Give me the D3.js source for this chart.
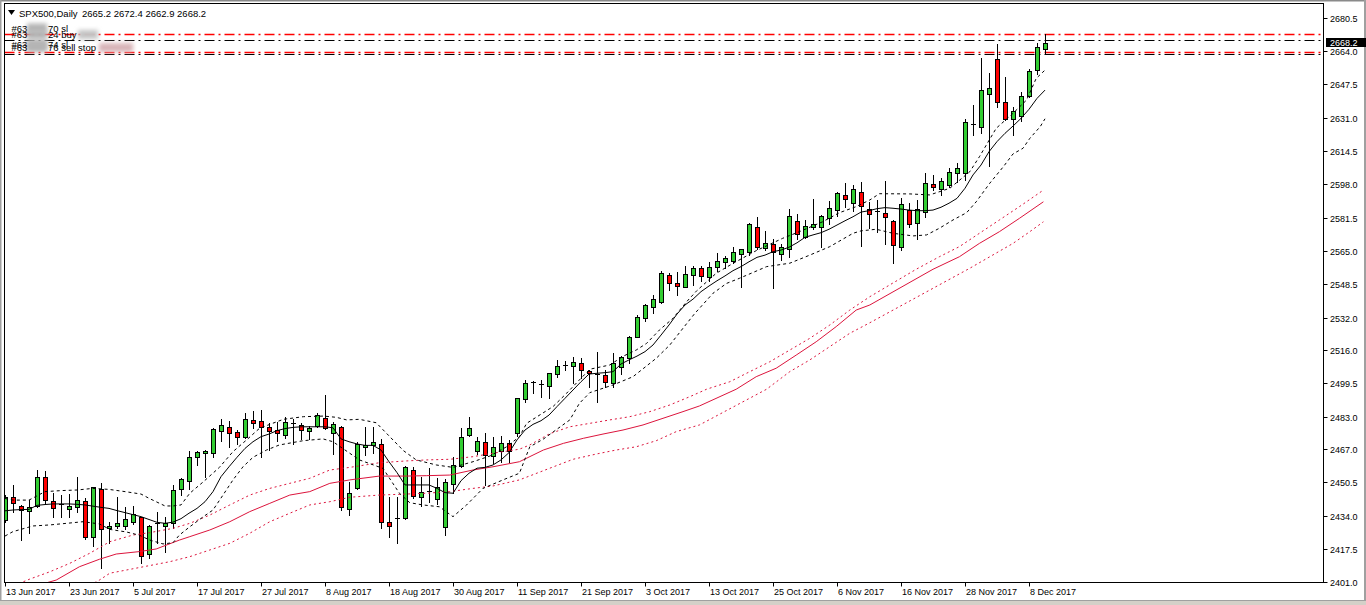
<!DOCTYPE html>
<html><head><meta charset="utf-8">
<script src="https://cdn.jsdelivr.net/npm/d3@7"></script>
<style>
html,body{margin:0;padding:0;background:#fff;overflow:hidden}
svg{display:block}
text{font-family:"Liberation Sans",Arial,sans-serif}
</style>
</head><body>
<svg id="c" width="1366" height="605"></svg>
<script>
// ---------- DATA ----------
const symbolTitle = "SPX500,Daily";
const open = [2431.8,2443.4,2438.9,2436.5,2438.8,2453.0,2441.3,2439.6,2437.1,2438.1,2441.3,2423.3,2447.0,2427.7,2429.0,2429.0,2430.7,2433.2,2414.8,2430.5,2428.9,2430.2,2447.0,2451.3,2462.9,2464.9,2464.9,2476.1,2478.0,2475.2,2472.8,2481.4,2480.7,2477.7,2476.4,2473.9,2480.0,2478.9,2475.9,2478.6,2482.2,2474.8,2478.0,2437.1,2447.5,2467.8,2468.8,2469.3,2430.7,2432.7,2432.7,2456.6,2443.4,2446.4,2442.1,2428.5,2449.7,2458.6,2473.9,2466.2,2470.3,2463.5,2466.2,2469.8,2474.8,2491.6,2500.3,2499.2,2498.2,2504.0,2508.6,2508.1,2509.4,2505.8,2504.1,2503.5,2499.8,2507.4,2511.9,2522.6,2532.0,2537.5,2539.9,2553.1,2549.0,2547.4,2553.0,2556.4,2552.0,2557.3,2559.7,2560.2,2563.4,2564.4,2576.7,2566.3,2568.3,2563.5,2566.0,2580.0,2571.8,2577.1,2576.7,2581.2,2585.3,2592.6,2588.6,2594.4,2585.7,2585.0,2583.7,2579.7,2566.8,2585.3,2578.7,2584.2,2598.0,2595.6,2597.5,2603.5,2603.5,2627.9,2626.6,2642.8,2659.9,2638.7,2630.4,2632.0,2641.8,2654.7,2665.2];
const high = [2444.2,2449.2,2439.2,2441.7,2456.6,2456.3,2445.0,2444.2,2444.6,2453.0,2442.6,2448.3,2450.3,2431.0,2443.1,2438.1,2438.8,2433.5,2429.2,2436.0,2433.2,2449.2,2452.5,2466.2,2466.2,2466.5,2477.2,2481.7,2480.9,2476.4,2484.7,2485.8,2486.3,2479.7,2480.5,2483.0,2481.7,2479.7,2478.4,2484.7,2493.7,2480.5,2478.4,2450.8,2470.6,2477.7,2477.7,2471.8,2443.4,2443.4,2458.6,2458.3,2453.3,2457.4,2452.5,2452.0,2462.9,2477.2,2483.0,2473.1,2475.1,2472.8,2473.4,2471.5,2492.4,2501.2,2500.7,2501.2,2504.8,2511.1,2510.7,2512.4,2511.9,2506.1,2515.2,2506.1,2514.7,2513.0,2522.9,2533.2,2538.8,2543.3,2555.3,2554.3,2554.8,2557.6,2557.6,2557.6,2559.7,2563.9,2562.5,2566.8,2566.2,2579.1,2581.7,2574.9,2570.8,2568.3,2585.7,2583.4,2580.4,2590.6,2582.8,2590.0,2594.4,2598.5,2597.7,2599.0,2589.5,2590.3,2599.7,2580.4,2591.1,2588.6,2590.3,2603.5,2602.7,2601.0,2606.3,2608.4,2630.4,2637.3,2660.8,2653.0,2667.5,2651.0,2636.2,2643.9,2655.0,2668.2,2672.4];
const low = [2431.0,2436.0,2421.9,2425.6,2438.4,2440.1,2433.2,2433.5,2433.5,2436.0,2422.6,2419.1,2408.2,2420.3,2427.7,2427.2,2429.9,2410.7,2412.9,2420.6,2416.2,2427.7,2444.2,2447.4,2459.1,2453.3,2463.2,2471.1,2468.2,2469.5,2472.3,2477.6,2462.9,2466.5,2471.1,2472.3,2469.5,2471.8,2471.8,2478.0,2476.7,2464.5,2436.8,2434.3,2447.2,2464.0,2465.2,2427.7,2423.6,2420.3,2432.2,2442.6,2438.8,2440.9,2439.8,2424.4,2445.0,2457.9,2473.6,2464.5,2449.2,2460.2,2460.7,2460.7,2473.4,2490.4,2494.6,2492.6,2492.1,2502.8,2506.1,2499.5,2502.0,2497.5,2490.4,2497.5,2497.9,2504.1,2509.7,2522.3,2530.5,2534.5,2539.5,2545.7,2543.3,2547.0,2548.2,2550.3,2550.3,2555.3,2556.4,2558.9,2547.0,2563.0,2565.9,2565.5,2546.5,2560.6,2562.2,2570.8,2571.3,2575.8,2567.2,2578.4,2582.4,2586.6,2585.0,2567.5,2576.2,2574.6,2568.5,2559.3,2565.5,2576.8,2570.8,2582.0,2595.2,2592.8,2596.9,2599.4,2600.2,2622.5,2623.6,2607.3,2636.2,2629.9,2622.5,2629.6,2641.4,2652.7,2662.9];
const close = [2443.4,2440.1,2436.8,2438.1,2453.0,2441.7,2437.6,2439.6,2438.8,2441.7,2423.6,2448.0,2427.2,2428.9,2430.2,2432.3,2434.7,2414.0,2428.9,2430.5,2430.5,2446.7,2452.2,2462.9,2465.5,2466.0,2476.7,2478.9,2475.1,2473.1,2481.7,2480.0,2478.0,2476.1,2474.8,2480.2,2480.0,2476.4,2477.6,2483.8,2477.2,2479.2,2438.4,2445.0,2469.3,2469.0,2470.3,2431.0,2429.0,2432.7,2457.9,2443.9,2445.9,2446.4,2448.0,2450.5,2458.9,2473.1,2477.2,2471.1,2464.0,2467.8,2469.8,2466.2,2492.1,2499.8,2500.3,2499.2,2504.5,2508.1,2508.6,2509.9,2506.1,2504.8,2504.1,2500.3,2509.4,2512.4,2522.3,2532.5,2538.1,2541.1,2554.0,2549.0,2547.9,2553.6,2556.5,2552.8,2556.9,2560.2,2561.4,2564.7,2565.9,2578.4,2567.2,2569.2,2564.7,2566.8,2582.5,2573.4,2577.4,2578.4,2582.5,2586.2,2593.6,2591.0,2595.6,2587.5,2583.4,2585.0,2581.7,2567.8,2588.1,2578.4,2585.7,2598.5,2596.6,2599.5,2604.0,2606.0,2628.7,2627.9,2644.7,2645.6,2638.7,2630.2,2634.2,2641.9,2654.0,2666.2,2668.2];

// black moving average (one value per bar)
const maBlack = [2436.4,2436.8,2437.0,2437.1,2439.1,2439.5,2439.8,2439.8,2439.8,2439.6,2439.3,2438.7,2438.1,2437.6,2436.5,2435.5,2434.5,2433.5,2432.1,2430.7,2430.2,2430.8,2432.5,2435.2,2437.6,2440.9,2445.9,2453.3,2458.2,2462.9,2467.3,2470.6,2473.1,2474.4,2476.1,2477.1,2477.7,2478.0,2478.0,2478.0,2478.0,2477.5,2472.0,2470.6,2469.5,2468.8,2468.8,2466.5,2460.7,2455.3,2449.2,2449.2,2449.2,2449.2,2447.5,2445.4,2445.1,2451.3,2455.0,2457.5,2457.9,2459.1,2461.6,2465.2,2471.5,2476.4,2479.2,2481.0,2483.8,2488.0,2492.1,2496.2,2500.3,2504.1,2504.5,2504.8,2505.3,2509.1,2511.1,2513.0,2515.2,2518.5,2523.4,2528.4,2533.8,2538.3,2541.2,2544.9,2547.7,2550.3,2552.7,2555.3,2557.3,2559.7,2561.9,2563.0,2564.7,2565.5,2566.9,2569.1,2571.8,2573.0,2574.1,2575.8,2577.9,2580.0,2582.0,2584.3,2585.0,2586.0,2586.5,2586.2,2585.8,2585.3,2585.0,2585.0,2585.3,2586.7,2588.7,2591.1,2596.1,2602.7,2607.6,2614.2,2619.2,2623.3,2626.9,2630.7,2635.2,2640.6,2644.7];

// black dashed bands, [bar, value]
const bandUpper = [[0,2442.5],[1,2441.7],[3,2441.7],[5,2445.9],[7,2446.4],[9,2446.7],[11,2447.5],[13,2447.0],[15,2445.9],[17,2444.7],[18,2442.6],[20,2438.8],[21,2438.8],[22,2439.3],[23.1,2445.1],[24.8,2450.8],[26.8,2457.9],[28.5,2465.7],[30.2,2471.5],[31.8,2477.2],[33.1,2479.2],[34.8,2481.7],[37.3,2483.0],[39.8,2483.3],[41.4,2482.7],[42.7,2481.4],[44.3,2481.7],[46.4,2480.0],[48.1,2473.1],[49.8,2466.2],[51.4,2461.6],[53.9,2459.1],[56,2457.9],[58.5,2460.7],[60.6,2463.5],[62.7,2468.1],[64.3,2473.1],[65.2,2479.7],[68.5,2488.0],[70.2,2494.6],[71.8,2501.2],[73.1,2506.5],[75.6,2508.6],[77.3,2513.0],[78.9,2516.0],[80.2,2519.3],[81.8,2525.9],[83.5,2531.7],[85.2,2539.9],[86.5,2545.5],[88.9,2554.0],[91,2558.9],[93.9,2565.2],[97.2,2571.3],[99.3,2574.6],[102.2,2579.5],[104.3,2584.0],[106.4,2587.0],[108.1,2590.3],[109.3,2593.4],[113.1,2593.3],[115.6,2592.8],[118.1,2596.1],[120.6,2604.3],[121.8,2611.7],[123.9,2625.8],[126,2633.2],[127.7,2639.8],[128.9,2650.5],[130,2654.6]];
const bandLower = [[0,2423.9],[1,2426.1],[3.5,2428.9],[5.6,2429.4],[7.7,2430.2],[9.75,2431.0],[11.8,2429.9],[13.1,2427.2],[15.2,2425.9],[16.8,2424.3],[18.1,2421.9],[19.75,2420.0],[21,2420.6],[21.8,2424.4],[23.1,2428.5],[24.8,2433.5],[26,2436.8],[27.25,2444.2],[28.5,2451.7],[29.75,2458.2],[31,2462.9],[32.7,2466.5],[34.3,2469.0],[37.25,2471.1],[39.75,2472.0],[41,2470.6],[44.3,2461.6],[47.25,2457.4],[49.3,2445.1],[50.6,2440.4],[52.25,2439.3],[54.3,2438.4],[56,2433.5],[57.7,2439.3],[59.75,2447.5],[62.25,2451.7],[64.3,2455.0],[65.6,2468.1],[67.25,2471.8],[70.6,2481.4],[71.8,2489.6],[73.1,2494.9],[76,2498.7],[78.5,2502.8],[81.4,2511.9],[83.1,2518.5],[84.75,2526.8],[86.2,2534.0],[88.5,2544.1],[90.2,2549.0],[91.8,2551.5],[95.2,2557.3],[98.1,2559.0],[100.6,2563.0],[103.1,2567.2],[106,2573.8],[107,2575.0],[108.9,2575.8],[111,2573.8],[113.5,2572.5],[115.2,2573.0],[116.8,2576.3],[118.5,2580.4],[120.2,2584.0],[121.4,2589.4],[123.1,2598.6],[124.8,2606.8],[126,2613.1],[127.25,2615.9],[128.1,2620.8],[129.4,2626.6],[130,2630.5]];

// red moving average and its dotted envelope, [bar, value]
const maRed = [[0,2395.0],[6.4,2402.1],[9.3,2408.7],[11.8,2412.4],[13.9,2415.0],[16.8,2416.2],[18.9,2417.5],[21.8,2421.9],[23.1,2423.6],[25.6,2426.9],[28.1,2431.0],[30.6,2436.0],[33.1,2440.1],[35.6,2444.2],[38.1,2445.9],[40.6,2450.0],[43.1,2451.7],[46.8,2453.6],[50.2,2453.6],[52.7,2453.8],[55.6,2454.1],[58.5,2456.6],[61,2458.2],[64.3,2460.7],[67.3,2466.5],[69.8,2469.8],[72.3,2472.3],[74.75,2474.4],[77.25,2476.4],[79.75,2478.9],[82.25,2482.2],[84.75,2485.5],[86.8,2488.3],[91.4,2496.6],[93.9,2502.8],[96.4,2507.0],[98.9,2513.5],[101.4,2520.1],[103.9,2527.6],[106.4,2535.8],[108.1,2538.3],[116,2556.0],[119.3,2562.2],[121.8,2568.8],[124.3,2574.6],[126.8,2581.2],[129.8,2589.4]];
const redUpper = [[0,2397.5],[3.1,2402.6],[5.6,2406.2],[8.1,2410.4],[10.6,2415.4],[13.1,2421.1],[16,2424.4],[18.1,2425.6],[21,2427.7],[23.1,2430.2],[25.6,2434.3],[28.1,2439.3],[30.6,2444.2],[33.1,2447.5],[35.6,2450.0],[38.1,2452.5],[40.6,2456.6],[43.1,2457.9],[46.8,2460.2],[50.2,2461.1],[52.7,2461.6],[55.6,2461.9],[58.5,2463.2],[61,2464.9],[64.3,2466.9],[65.6,2469.0],[68.1,2474.6],[70.6,2478.0],[73.1,2479.7],[75.6,2481.4],[78.1,2483.0],[80.6,2485.5],[83.1,2488.8],[85.6,2492.9],[87.7,2496.6],[90.6,2500.3],[93.1,2505.3],[95.6,2510.2],[98.1,2516.0],[100.6,2521.8],[103.1,2528.4],[105.6,2535.8],[108.1,2542.4],[113.9,2556.0],[116.8,2562.2],[119.3,2567.2],[121.8,2573.8],[124.3,2580.4],[126.8,2587.0],[129.8,2595.2]];
const redLower = [[9,2396.0],[11.8,2402.1],[13.1,2405.5],[20.6,2411.2],[23.1,2413.7],[25.6,2417.0],[28.1,2420.3],[30.6,2425.3],[33.1,2431.0],[35.6,2435.2],[38.1,2439.3],[40.6,2440.9],[43.1,2443.1],[46.8,2444.2],[50.2,2444.7],[52.7,2445.1],[55.6,2445.9],[58.5,2447.5],[61,2448.7],[64.3,2451.7],[71,2461.9],[73.9,2464.5],[76.4,2466.5],[78.9,2468.1],[81.4,2471.1],[83.9,2475.6],[86.8,2478.9],[95.2,2496.6],[98.1,2505.3],[100.6,2511.1],[103.1,2517.7],[105.6,2524.3],[108.1,2529.5],[120.6,2556.5],[123.5,2563.1],[126,2568.8],[128.1,2574.6],[129.8,2579.5]];

// order lines (price levels) and their labels
const orderLevels = [2672.5, 2669.4, 2663.4, 2662.7];
const orderKinds  = ["sl", "order", "sl", "order"];
const orderLabelHead = ["#63","#63","#63","#63"];
const orderLabelTail = ["70 sl","24 buy","74 sl","76 sell stop"];

// axis labels
const priceTicks = ["2680.5","2664.0","2647.5","2631.0","2614.5","2598.0","2581.5","2565.0","2548.5","2532.0","2516.0","2499.5","2483.0","2467.0","2450.5","2434.0","2417.5","2401.0"];
const dateTickBars = [0,8,16,24,32,40,48,56,64,72,80,88,96,104,112,120,128];
const dateTickLabels = ["13 Jun 2017","23 Jun 2017","5 Jul 2017","17 Jul 2017","27 Jul 2017","8 Aug 2017","18 Aug 2017","30 Aug 2017","11 Sep 2017","21 Sep 2017","3 Oct 2017","13 Oct 2017","25 Oct 2017","6 Nov 2017","16 Nov 2017","28 Nov 2017","8 Dec 2017"];

// ---------- DRAW ----------
const svg = d3.select("#c");
const W = 1366, H = 605;
const plot = {left:4.5, top:3.5, right:1323.5, bottom:582.5};
const x = d3.scaleLinear().domain([0, open.length - 1]).range([5, 1045]);
const y = d3.scaleLinear().domain([2401, 2680.5]).range([582.3, 17.8]);
const px = v => Math.round(v) + 0.5;

const defs = svg.append("defs");
defs.append("clipPath").attr("id","clip").append("rect")
  .attr("x", plot.left+0.5).attr("y", plot.top+0.5)
  .attr("width", plot.right-plot.left-1).attr("height", plot.bottom-plot.top-1);
const blur = defs.append("filter").attr("id","blur").attr("x","-30%").attr("y","-60%").attr("width","160%").attr("height","220%");
blur.append("feGaussianBlur").attr("stdDeviation", 2.2);

// window chrome
svg.append("rect").attr("x",0).attr("y",0).attr("width",W).attr("height",H).attr("fill","#fff");
svg.append("rect").attr("x",0).attr("y",0).attr("width",W).attr("height",1.5).attr("fill","#8a8a8a");
svg.append("rect").attr("x",0).attr("y",0).attr("width",1.5).attr("height",H).attr("fill","#a0a0a0");
svg.append("rect").attr("x",W-2).attr("y",0).attr("width",2).attr("height",H).attr("fill","#a0a0a0");
svg.append("rect").attr("x",0).attr("y",601).attr("width",W).attr("height",4).attr("fill","#d4d0c8");
svg.append("line").attr("x1",0).attr("x2",W).attr("y1",600.5).attr("y2",600.5).attr("stroke","#a0a0a0");

const g = svg.append("g").attr("clip-path","url(#clip)");

// order lines
orderLevels.forEach((p,k) => {
  const isSl = orderKinds[k] === "sl";
  g.append("line")
    .attr("x1", plot.left).attr("x2", plot.right)
    .attr("y1", px(y(p))).attr("y2", px(y(p)))
    .attr("stroke", isSl ? "#ff0000" : "#000")
    .attr("stroke-width", isSl ? 1.6 : 1)
    .attr("stroke-dasharray", "10,4,2,4");
});

// candles
const candles = g.append("g");
open.forEach((o,i) => {
  const c = close[i], cx = px(x(i));
  candles.append("line").attr("x1",cx).attr("x2",cx)
    .attr("y1", Math.round(y(high[i]))).attr("y2", Math.round(y(low[i]))+1)
    .attr("stroke","#000").attr("stroke-width",1);
  if (o === c) {
    candles.append("line").attr("x1",cx-2.5).attr("x2",cx+2.5)
      .attr("y1", px(y(o))).attr("y2", px(y(o)))
      .attr("stroke","#000").attr("stroke-width",1);
  } else {
    const t = Math.round(y(Math.max(o,c))), b = Math.round(y(Math.min(o,c)));
    candles.append("rect").attr("x",cx-2).attr("y",t+0.5)
      .attr("width",4).attr("height",Math.max(b-t,1))
      .attr("fill", c > o ? "#32cd32" : "#ff0000")
      .attr("stroke","#000").attr("stroke-width",1);
  }
});

// indicator lines
const lineIdx = d3.line().x((d,i)=>x(i)).y(d=>y(d));
const linePts = d3.line().x(d=>x(d[0])).y(d=>y(d[1]));
g.append("path").attr("d", linePts(maRed)).attr("fill","none").attr("stroke","#dc143c").attr("stroke-width",1);
g.append("path").attr("d", linePts(redUpper)).attr("fill","none").attr("stroke","#dc143c").attr("stroke-width",1).attr("stroke-dasharray","2,3");
g.append("path").attr("d", linePts(redLower)).attr("fill","none").attr("stroke","#dc143c").attr("stroke-width",1).attr("stroke-dasharray","2,3");
g.append("path").attr("d", lineIdx(maBlack)).attr("fill","none").attr("stroke","#000").attr("stroke-width",1);
g.append("path").attr("d", linePts(bandUpper)).attr("fill","none").attr("stroke","#000").attr("stroke-width",1).attr("stroke-dasharray","3,3");
g.append("path").attr("d", linePts(bandLower)).attr("fill","none").attr("stroke","#000").attr("stroke-width",1).attr("stroke-dasharray","3,3");

// order labels (account parts blurred)
const labelBase = [31.5, 38, 47.5, 51];
const blurW = [[27,20,0,0],[27,20,78,20],[27,20,0,0],[27,20,99,34]];
orderLevels.forEach((p,k) => {
  const lg = g.append("g");
  const bw = blurW[k];
  lg.append("rect").attr("x",bw[0]).attr("y",labelBase[k]-8).attr("width",bw[1]).attr("height",9)
    .attr("fill","#b4b4b4").attr("filter","url(#blur)");
  if (bw[3] > 0) {
    lg.append("rect").attr("x",bw[2]).attr("y",labelBase[k]-8).attr("width",bw[3]).attr("height",9)
      .attr("fill", k===3 ? "#d8b4b8" : "#c4c4c4").attr("filter","url(#blur)");
  }
  lg.append("text").attr("x",11.5).attr("y",labelBase[k]).attr("font-size","9.5px").attr("fill","#000").text(orderLabelHead[k]);
  lg.append("text").attr("x",48).attr("y",labelBase[k]).attr("font-size","9.5px").attr("fill","#000").text(orderLabelTail[k]);
});

// header
svg.append("path").attr("d","M8,10 L15,10 L11.5,15 Z").attr("fill","#000");
const last = open.length - 1;
svg.append("text").attr("x",19).attr("y",17).attr("font-size","9.5px").attr("fill","#000").text(symbolTitle);
svg.append("text").attr("x",82).attr("y",17).attr("font-size","9.5px").attr("fill","#000")
  .text([open[last],high[last],low[last],close[last]].map(v=>v.toFixed(1)).join(" "));

// frame
svg.append("rect").attr("x",plot.left).attr("y",plot.top)
  .attr("width",plot.right-plot.left).attr("height",plot.bottom-plot.top)
  .attr("fill","none").attr("stroke","#000").attr("stroke-width",1);

// price axis
const ya = svg.append("g");
priceTicks.forEach(t => {
  const yy = px(y(parseFloat(t)));
  ya.append("line").attr("x1",plot.right).attr("x2",plot.right+4).attr("y1",yy).attr("y2",yy).attr("stroke","#000");
  ya.append("text").attr("x",1330).attr("y",yy).attr("dy","0.36em").attr("font-size","9px").attr("fill","#000").text(t);
});
// current price tag
const yc = y(close[last]);
ya.append("rect").attr("x",1326).attr("y",Math.round(yc)-5).attr("width",40).attr("height",9).attr("fill","#000");
ya.append("text").attr("x",1330).attr("y",Math.round(yc)-0.5).attr("dy","0.36em").attr("font-size","9px").attr("fill","#fff").text(close[last].toFixed(1));

// time axis
const xa = svg.append("g");
dateTickBars.forEach((b,k) => {
  const xx = px(x(b));
  xa.append("line").attr("x1",xx).attr("x2",xx).attr("y1",plot.bottom).attr("y2",plot.bottom+4).attr("stroke","#000");
  xa.append("text").attr("x",xx+0.5).attr("y",592).attr("dy","0.36em").attr("font-size","9px").attr("fill","#000").text(dateTickLabels[k]);
});
</script>
</body></html>
